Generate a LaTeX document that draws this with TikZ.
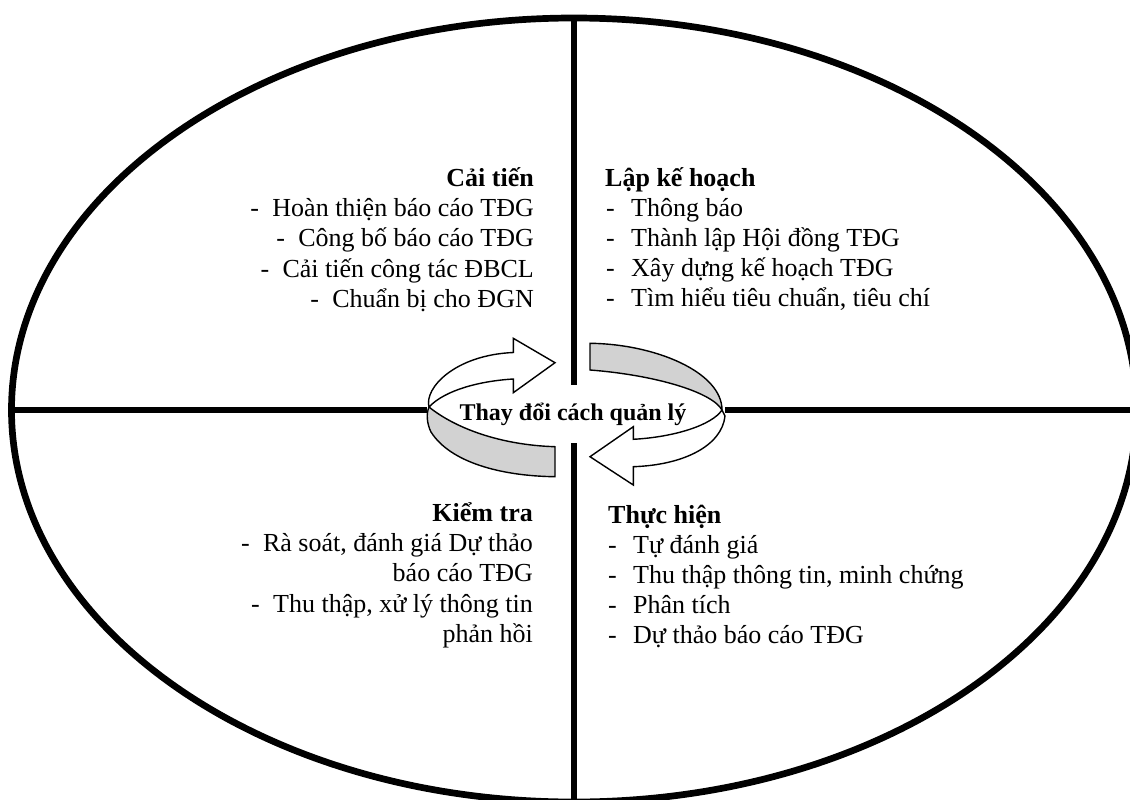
\documentclass[tikz,border=0pt]{standalone}
\usepackage{fontspec}
\setmainfont{Liberation Serif}
\newcommand\bulR{\makebox[22pt][l]{-}}
\newcommand\bulL{\makebox[25pt][l]{-}}
\tikzset{
  frame/.style={line width=6.7pt},
  head/.style={font=\fontsize{26}{30}\selectfont\bfseries, inner sep=0pt},
  item/.style={font=\fontsize{26}{30}\selectfont, inner sep=0pt},
  band/.style={draw, line width=1.4pt, fill=gray!35, line join=miter},
  arrowshape/.style={draw, line width=1.4pt, fill=white, line join=miter},
}
\begin{document}
\begin{tikzpicture}[x=1pt,y=-1pt]
\useasboundingbox (0,0) rectangle (1130,800);
% frame
\coordinate (ctrE) at (574,410);
\coordinate (top) at (574,18);
\coordinate (bot) at (574,803);
\coordinate (lft) at (11.5,410);
\coordinate (rgt) at (1137,410);
\coordinate (gapT) at (574,385);
\coordinate (gapB) at (574,443);
\coordinate (gapL) at (427,410);
\coordinate (gapR) at (725,410);
\draw[frame] (ctrE) ellipse [x radius=562.5pt, y radius=392pt];
\draw[frame] (top) -- (gapT);
\draw[frame] (gapB) -- (bot);
\draw[frame] (lft) -- (gapL);
\draw[frame] (gapR) -- (rgt);
% cycle arrow
\path[band] (429,407) .. controls (455,428) and (500,445) .. (555,446.7) -- (555,476.7)
  .. controls (500,476) and (450,462) .. (431,432) .. controls (427,424) and (426,414) .. cycle;
\path[band] (590,343.3) .. controls (655,344) and (722,372) .. (722,410)
  .. controls (712,392) and (655,375) .. (590,370) -- cycle;
\path[arrowshape] (429,407) .. controls (424,388) and (455,355) .. (513.3,352.5)
  -- (513.3,338.3) -- (555,362.7) -- (513.3,392.7) -- (513.3,379)
  .. controls (480,381) and (445,390) .. cycle;
\path[arrowshape] (722,410) .. controls (712,425) and (675,437) .. (633.3,439.3)
  -- (633.3,426.7) -- (590,456.7) -- (633.3,485) -- (633.3,466.7)
  .. controls (685,465) and (722,445) .. (725,416) -- cycle;
\node[font=\fontsize{24}{28}\selectfont\bfseries, inner sep=0pt, anchor=base] (ctr) at (573,420) {Thay đổi cách quản lý};
% Cai tien
\node[head, anchor=base east] (c0) at (534,186) {Cải tiến};
\node[item, anchor=base east] (c1) at (534,216) {\bulR Hoàn thiện báo cáo TĐG};
\node[item, anchor=base east] (c2) at (534,246) {\bulR Công bố báo cáo TĐG};
\node[item, anchor=base east] (c3) at (534,277) {\bulR Cải tiến công tác ĐBCL};
\node[item, anchor=base east] (c4) at (534,307) {\bulR Chuẩn bị cho ĐGN};
% Lap ke hoach
\node[head, anchor=base west] (l0) at (605,186) {Lập kế hoạch};
\node[item, anchor=base west] (l1) at (606,216) {\bulL Thông báo};
\node[item, anchor=base west] (l2) at (606,246) {\bulL Thành lập Hội đồng TĐG};
\node[item, anchor=base west] (l3) at (606,276) {\bulL Xây dựng kế hoạch TĐG};
\node[item, anchor=base west] (l4) at (606,306) {\bulL Tìm hiểu tiêu chuẩn, tiêu chí};
% Kiem tra
\node[head, anchor=base east] (k0) at (533,521) {Kiểm tra};
\node[item, anchor=base east] (k1) at (533,551) {\bulR Rà soát, đánh giá Dự thảo};
\node[item, anchor=base east] (k2) at (533,581) {báo cáo TĐG};
\node[item, anchor=base east] (k3) at (533,612) {\bulR Thu thập, xử lý thông tin};
\node[item, anchor=base east] (k4) at (533,642) {phản hồi};
% Thuc hien
\node[head, anchor=base west] (t0) at (608,523) {Thực hiện};
\node[item, anchor=base west] (t1) at (608,553) {\bulL Tự đánh giá};
\node[item, anchor=base west] (t2) at (608,583) {\bulL Thu thập thông tin, minh chứng};
\node[item, anchor=base west] (t3) at (608,613) {\bulL Phân tích};
\node[item, anchor=base west] (t4) at (608,643) {\bulL Dự thảo báo cáo TĐG};
\end{tikzpicture}
\end{document}
